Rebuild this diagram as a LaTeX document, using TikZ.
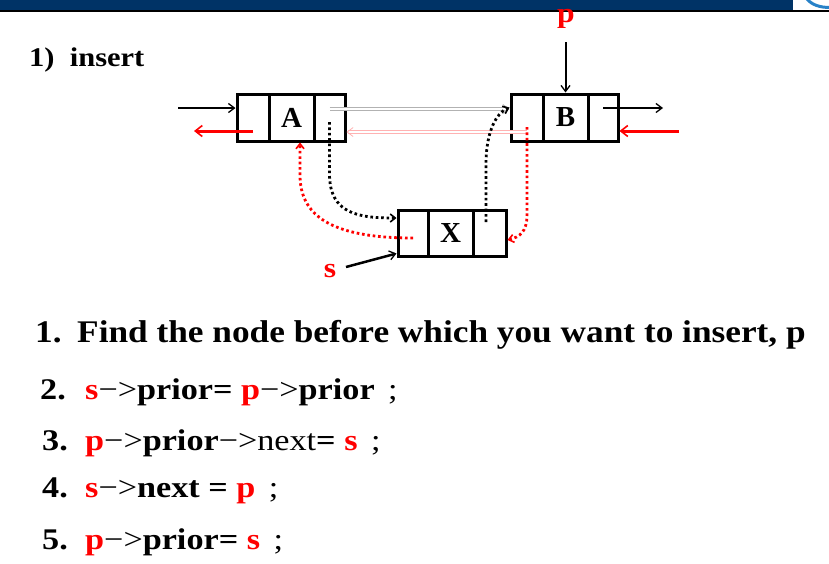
\documentclass[tikz,border=0pt]{standalone}
\usepackage{fontspec}
\setmainfont{Liberation Serif}
\newfontfamily\fhead[FakeStretch=1.13]{Liberation Serif}
\newfontfamily\fone[FakeStretch=1.12]{Liberation Serif}
\newfontfamily\ftwo[FakeStretch=1.14]{Liberation Serif}
\usetikzlibrary{arrows.meta}
\definecolor{navy}{RGB}{0,51,102}
\definecolor{logoblue}{RGB}{40,130,200}
\newcommand\rd[1]{\textcolor{red}{#1}}
\newcommand\arw{{\mdseries −>}}
\newcommand\semi{\hspace{0.45em}{\mdseries;}}
\begin{document}
\begin{tikzpicture}[x=1pt,y=-1pt,
  cell/.style={draw, line width=3pt, minimum height=47pt, inner sep=0pt,
    font=\bfseries\fontsize{29}{29}\selectfont},
  blk/.style={line width=2pt, -{Straight Barb[length=6pt,width=9pt,line width=1.3pt]}},
  redar/.style={red, line width=3pt, -{Straight Barb[length=7pt,width=11pt,line width=1.6pt]}},
  grayar/.style={draw=gray!60, line width=0.8pt, double=white, double distance=2.2pt,
    -{Straight Barb[length=6pt,width=9pt,line width=0.8pt]}},
  pinkar/.style={draw=red!30, line width=0.8pt, double=white, double distance=2.2pt,
    -{Straight Barb[length=6pt,width=9pt,line width=0.8pt]}},
  dots/.style={line width=2.8pt, dash pattern=on 2.6pt off 2.8pt},
  dotblk/.style={dots, black, -{Straight Barb[length=5pt,width=8pt,line width=1.6pt]}},
  dotred/.style={dots, red, -{Straight Barb[length=5pt,width=8pt,line width=1.6pt]}},
  txt/.style={anchor=base west, inner sep=0pt},
  t0/.style={txt, font=\fhead\bfseries\fontsize{27}{27}\selectfont},
  t1/.style={txt, font=\fone\bfseries\fontsize{31.5}{31.5}\selectfont},
  t2/.style={txt, font=\ftwo\bfseries\fontsize{30}{30}\selectfont},
  lbl/.style={anchor=base, inner sep=0pt, text=red, font=\fhead\bfseries\fontsize{28}{28}\selectfont}
]
\useasboundingbox (0,0) rectangle (829,563);
% top bar
\fill[navy] (0,0) rectangle (793,9.5);
\draw[line width=2.5pt] (0,10.75) -- (829,10.75);
\draw[logoblue, line width=3pt] (807,-1) .. controls (812,5) and (820,7.5) .. (830,7.5);

% title
\node[t0] (title) at (29,66) {1)\ \ insert};

% node A
\node[cell, minimum width=32pt] (Ap) at (253,117.5) {};
\node[cell, minimum width=45pt] (Ad) at (291.5,117.5) {A};
\node[cell, minimum width=31pt] (An) at (329.5,117.5) {};
% node B
\node[cell, minimum width=32pt] (Bp) at (527,117.5) {};
\node[cell, minimum width=45pt] (Bd) at (565.5,117.5) {B};
\node[cell, minimum width=30pt] (Bn) at (603,117.5) {};
% node X
\node[cell, minimum width=30pt, minimum height=46pt] (Xp) at (413,233) {};
\node[cell, minimum width=45pt, minimum height=46pt] (Xd) at (450.5,233) {X};
\node[cell, minimum width=33pt, minimum height=46pt] (Xn) at (489.5,233) {};

% outer links
\coordinate (inA) at (178,108);
\draw[blk] (inA) -- (Ap.west |- inA);
\coordinate (outA) at (194,131);
\draw[redar] (Ap.center |- outA) -- (outA);
\coordinate (outB) at (663,108);
\draw[blk] (Bn.center |- outB) -- (outB);
\coordinate (inB) at (679,131);
\draw[redar] (inB) -- (Bn.east |- inB);

% p pointer
\node[lbl] (plab) at (566,22) {p};
\coordinate (ptop) at (565.5,42);
\draw[blk] (ptop) -- (Bd.north);

% old links (faded)
\coordinate (gy) at (0,109);
\draw[grayar] (An.center |- gy) -- (Bp.west |- gy);
\coordinate (py) at (0,132);
\draw[pinkar] (Bp.center |- py) -- (An.east |- py);

% new links (dotted)
\draw[dotblk] ([yshift=-4.5pt]An.center) -- ++(0,52)
  .. controls +(0,40) and +(-38,0) .. ([yshift=15pt]Xp.west);
\draw[dotblk] ([xshift=-3.5pt,yshift=11pt]Xn.center) -- ++(0,-62)
  .. controls +(1,-28) and +(-14,6) .. ([yshift=10pt]Bp.west);
\draw[dotred] ([yshift=-9.5pt]Bp.center) -- ++(0,88)
  .. controls +(0,17) and +(12,-3) .. ([yshift=-7pt]Xn.east);
\draw[dotred] ([yshift=-5pt]Xp.center) .. controls (330,238) and (300,215) .. (300,175)
  -- ([xshift=8.5pt]Ad.south);

% s pointer
\node[lbl] (slab) at (330,277) {s};
\coordinate (sst) at (346,267);
\draw[blk, line width=2.5pt] (sst) -- ([yshift=4pt]Xp.south west);

% steps
\node[t1] (n1) at (35,342) {1.};
\node[t1] (l1) at (77,342) {Find the node before which you want to insert, p};
\node[t2] (n2) at (40,399) {2.};
\node[t2] (l2) at (85,399) {\rd{s}\arw prior= \rd{p}\arw prior\semi};
\node[t2] (n3) at (42,450) {3.};
\node[t2] (l3) at (85,450) {\rd{p}\arw prior\arw{\mdseries next}= \rd{s}\semi};
\node[t2] (n4) at (42,497) {4.};
\node[t2] (l4) at (85,497) {\rd{s}\arw next = \rd{p}\semi};
\node[t2] (n5) at (42,549) {5.};
\node[t2] (l5) at (85,549) {\rd{p}\arw prior= \rd{s}\semi};
\end{tikzpicture}
\end{document}
